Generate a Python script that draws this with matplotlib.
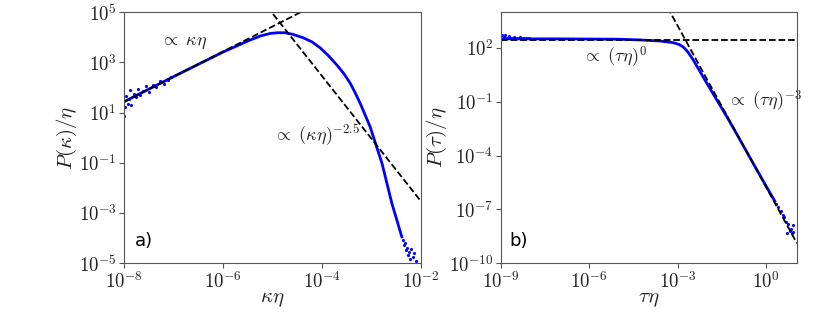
import numpy as np
import matplotlib
matplotlib.use("Agg")
import matplotlib.pyplot as plt
from matplotlib.ticker import FuncFormatter

plt.rcParams['mathtext.fontset'] = 'cm'
plt.rcParams['font.family'] = ['DejaVu Sans']

# ---- panel a: curvature pdf (log10 values)
ka_logx = [-8.0, -7.5, -7.0, -6.5, -6.0, -5.5, -5.25, -5.05, -4.9, -4.75, -4.6, -4.38,
           -4.2, -4.04, -3.87, -3.70, -3.56, -3.43, -3.33, -3.23, -3.13, -3.03, -2.91,
           -2.79, -2.69, -2.59, -2.49, -2.39]
ka_logy = [1.43, 1.93, 2.43, 2.92, 3.41, 3.85, 4.05, 4.15, 4.18, 4.18, 4.12, 3.98,
           3.81, 3.58, 3.26, 2.89, 2.55, 2.16, 1.78, 1.36, 0.9, 0.43, -0.30,
           -1.03, -1.83, -2.63, -3.29, -3.96]
# noisy samples at both ends
ka_noise_logx = [-8.0, -7.97, -7.95, -7.92, -7.9, -7.87, -7.85, -7.8, -7.76, -7.72,
                 -7.68, -7.62, -7.55, -7.5, -7.42, -7.35, -7.28, -7.2, -7.12, -7.05,
                 -2.36, -2.34, -2.32, -2.3, -2.28, -2.26, -2.24, -2.22, -2.2, -2.17, -2.14, -2.11]
ka_noise_logy = [0.85, 1.2, 1.65, 1.35, 1.55, 1.9, 1.3, 1.75, 1.6, 1.95, 1.7, 1.85,
                 2.05, 1.8, 2.1, 2.0, 2.25, 2.15, 2.3, 2.4,
                 -4.1, -4.3, -4.2, -4.5, -4.4, -4.7, -4.55, -4.85, -4.45, -4.75, -4.6, -4.9]
fit_a1_x = [1e-8, 1e-4]
fit_a1_y = [10**1.43, 10**5.43]
fit_a2_x = [10**-5.5, 1e-2]
fit_a2_y = [10**6.2, 10**-2.55]

# ---- panel b: duration pdf
tb_logx = [-8.9, -8.5, -8.0, -7.0, -6.0, -5.0, -4.27, -3.6, -3.15, -2.95, -2.81,
           -2.65, -2.47, -2.25, -2.01, -1.33, -1.0, -0.5, 0.0, 0.3]
tb_logy = [2.52, 2.51, 2.51, 2.51, 2.5, 2.49, 2.45, 2.39, 2.3, 2.2, 2.06,
           1.78, 1.34, 0.72, 0.04, -1.83, -2.78, -4.25, -5.7, -6.55]
tb_noise_logx = [-9.0, -8.95, -8.9, -8.85, -8.8, -8.72, -8.65, -8.55, -8.45, -8.35,
                 -8.25, -8.15, -8.05, 0.35, 0.42, 0.5, 0.56, 0.62, 0.68, 0.72, 0.76,
                 0.8, 0.84, 0.87, 0.9, 0.93]
tb_noise_logy = [2.5, 2.72, 2.6, 2.75, 2.56, 2.66, 2.58, 2.64, 2.56, 2.6, 2.54, 2.58,
                 2.55, -6.7, -6.9, -7.1, -7.3, -7.45, -7.7, -8.3, -7.85,
                 -8.2, -8.1, -8.35, -7.9, -8.25]
fit_b1_x = [1e-9, 10**1.05]
fit_b1_y = [10**2.46, 10**2.46]
fit_b2_x = [10**-3.5, 10**1.05]
fit_b2_y = [10**4.75, 10**-8.9]

spine_col = '#555555'
txt_col = '#222222'

fig = plt.figure(figsize=(8.3, 3.12), dpi=100)
ax1 = fig.add_axes([0.1494, 0.157, 0.358, 0.804])
ax2 = fig.add_axes([0.6032, 0.157, 0.357, 0.804])

pow_fmt = FuncFormatter(lambda v, p: r'$10^{%d}$' % int(round(np.log10(v))))

def style(ax, xt, yt):
    ax.set_xscale('log')
    ax.set_yscale('log')
    ax.set_xticks(xt)
    ax.set_yticks(yt)
    ax.minorticks_off()
    for s in ax.spines.values():
        s.set_color(spine_col)
    ax.tick_params(colors=spine_col, labelcolor=txt_col, labelsize=13.5, length=3.5, pad=2)
    ax.xaxis.set_major_formatter(pow_fmt)
    ax.yaxis.set_major_formatter(pow_fmt)

# panel a
style(ax1, [1e-8, 1e-6, 1e-4, 1e-2], [1e-5, 1e-3, 1e-1, 1e1, 1e3, 1e5])
ax1.plot(10**np.array(ka_logx), 10**np.array(ka_logy), color='blue', lw=2)
ax1.plot(10**np.array(ka_noise_logx), 10**np.array(ka_noise_logy), '.', color='blue', ms=2.5)
ax1.plot(fit_a1_x, fit_a1_y, 'k--', lw=1.3)
ax1.plot(fit_a2_x, fit_a2_y, 'k--', lw=1.3)
ax1.set_xlim(1e-8, 1e-2)
ax1.set_ylim(1e-5, 1e5)
ax1.set_xlabel(r'$\kappa\eta$', fontsize=15, labelpad=-2, color=txt_col)
ax1.set_ylabel(r'$P(\kappa)/\eta$', fontsize=15, labelpad=0, color=txt_col)
ax1.text(10**-6.8, 10**3.8, r'$\propto\ \kappa\eta$', fontsize=13, ha='center', va='center', color=txt_col)
ax1.text(10**-5.0, 10**0.1, r'$\propto\ (\kappa\eta)^{-2.5}$', fontsize=13, ha='left', va='center', color=txt_col)
ax1.text(0.037, 0.088, 'a)', transform=ax1.transAxes, fontsize=13, va='center')

# panel b
style(ax2, [1e-9, 1e-6, 1e-3, 1e0], [1e-10, 1e-7, 1e-4, 1e-1, 1e2])
ax2.plot(10**np.array(tb_logx), 10**np.array(tb_logy), color='blue', lw=2)
ax2.plot(10**np.array(tb_noise_logx), 10**np.array(tb_noise_logy), '.', color='blue', ms=2.5)
ax2.plot(fit_b1_x, fit_b1_y, 'k--', lw=1.3)
ax2.plot(fit_b2_x, fit_b2_y, 'k--', lw=1.3)
ax2.set_xlim(1e-9, 10**1.05)
ax2.set_ylim(1e-10, 1e4)
ax2.set_xlabel(r'$\tau\eta$', fontsize=15, labelpad=-2, color=txt_col)
ax2.set_ylabel(r'$P(\tau)/\eta$', fontsize=15, labelpad=0, color=txt_col)
ax2.text(10**-6.25, 10**1.5, r'$\propto\ (\tau\eta)^0$', fontsize=13, ha='left', va='center', color=txt_col)
ax2.text(10**-1.33, 10**-1.0, r'$\propto\ (\tau\eta)^{-3}$', fontsize=13, ha='left', va='center', color=txt_col)
ax2.text(0.031, 0.088, 'b)', transform=ax2.transAxes, fontsize=13, va='center')

fig.savefig('out.png', dpi=100)
